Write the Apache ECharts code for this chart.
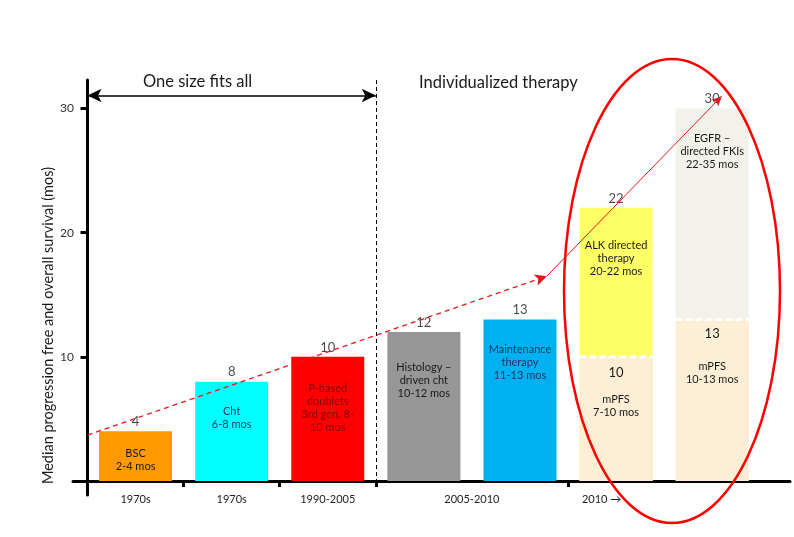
<!DOCTYPE html>
<html><head><meta charset="utf-8">
<script src="https://cdn.jsdelivr.net/npm/echarts@6/dist/echarts.min.js"></script>
<style>html,body{margin:0;padding:0;background:#fff}#c{width:794px;height:537px}</style>
</head><body><div id="c"></div>
<script>
// ---- data ----
const categories = ['BSC', 'Cht', 'P-based doublets', 'Histology-driven cht', 'Maintenance therapy', 'ALK directed therapy', 'EGFR-directed TKIs'];
const pfsValues = [4, 8, 10, 12, 13, 10, 13];          // lower (or only) bar segment
const osValues = [null, null, null, null, null, 22, 30]; // total height of two-part bars
const barTexts = ['BSC\n2-4 mos', 'Cht\n6-8 mos', 'P-based\ndoublets\n3rd gen. 8-\n10 mos', 'Histology –\ndriven cht\n10-12 mos', 'Maintenance\ntherapy\n11-13 mos', 'mPFS\n7-10 mos', 'mPFS\n10-13 mos'];
const upperTexts = [null, null, null, null, null, 'ALK directed\ntherapy\n20-22 mos', 'EGFR –\ndirected FKIs\n22-35 mos'];
const eraLabels = ['1970s', '1970s', '1990-2005', '2005-2010', '2010 →'];
const eraLabelPos = [0.5, 1.5, 2.5, 4, 5.35];
const eraTicks = [0, 1, 2, 3, 5];
const yTicks = [10, 20, 30];
const trendDashed = [[0, 3.7], [4.78, 16.5]];
const trendSolid = [[4.78, 16.5], [6.6, 31.0]];
const eraSplit = 3;
const headerArrow = [[0, 31.05], [3, 31.05]];

// ---- styles ----
const FONT = 'Lato';
const BAR_W = 73;
const baseColors = ['#FF9900', '#00FFFF', '#FF0000', '#969696', '#00B0F0', '#FDEFD5', '#FDEFD5'];
const upperColors = [null, null, null, null, null, '#FFFF66', '#F2F1EA'];
const textColors = ['#1a1a1a', '#1F3864', '#7F0000', '#1a1a1a', '#1F3864', '#1a1a1a', '#1a1a1a'];
const textDist = [16, 23, 25, 29, 23, 8, 6];
const upperDist = [0, 0, 0, 0, 0, 31, 23];

const xOf = i => i + 0.5;

const baseData = pfsValues.map((v, i) => {
  const two = osValues[i] != null;
  return {
    value: [xOf(i), v],
    itemStyle: { color: baseColors[i] },
    label: {
      show: true, position: 'insideTop', distance: textDist[i],
      color: textColors[i], fontFamily: FONT, fontSize: 11, lineHeight: 13, align: 'center',
      formatter: two
        ? ('{n|' + v + '}\n{' + (i === 5 ? 's1' : 's2') + '| }\n' + barTexts[i].split('\n').map(t => '{t|' + t + '}').join('\n'))
        : barTexts[i],
      rich: {
        n: { fontSize: 13, lineHeight: 16, color: '#1a1a1a', fontFamily: FONT },
        s1: { lineHeight: 12, fontSize: 4 },
        s2: { lineHeight: 18, fontSize: 4 },
        t: { fontSize: 11, lineHeight: 13, color: '#1a1a1a', fontFamily: FONT }
      }
    }
  };
});

const upperData = osValues.map((v, i) => {
  if (v == null) return { value: [xOf(i), '-'] };
  return {
    value: [xOf(i), v],
    itemStyle: { color: upperColors[i] },
    label: {
      show: true, position: 'insideTop', distance: upperDist[i],
      color: '#1a1a1a', fontFamily: FONT, fontSize: 11, lineHeight: 13, align: 'center',
      formatter: upperTexts[i]
    }
  };
});

const splitData = [];
pfsValues.forEach((v, i) => { if (osValues[i] != null) splitData.push([xOf(i), v]); });

const topData = pfsValues.map((v, i) => [xOf(i), osValues[i] != null ? osValues[i] : v]);

const chart = echarts.init(document.getElementById('c'), null, { renderer: 'canvas' });
chart.setOption({
  animation: false,
  backgroundColor: '#ffffff',
  textStyle: { fontFamily: FONT },
  grid: { left: 73, right: 4, top: 80, bottom: 42, containLabel: false },
  xAxis: {
    type: 'value', min: -0.151, max: 7.31,
    axisLine: { show: true, onZero: true, lineStyle: { color: '#000', width: 3 } },
    axisTick: { show: true, customValues: eraTicks, length: 6, lineStyle: { color: '#000', width: 3 } },
    axisLabel: {
      show: true, customValues: eraLabelPos, margin: -1, fontSize: 11, color: '#222', fontFamily: FONT,
      formatter: v => { const k = eraLabelPos.findIndex(p => Math.abs(p - v) < 1e-6); return k >= 0 ? eraLabels[k] : ''; }
    },
    splitLine: { show: false }
  },
  yAxis: {
    type: 'value', min: -1.13, max: 32.3,
    name: 'Median progression free and overall survival (mos)',
    nameLocation: 'middle', nameGap: 17, nameRotate: 90, nameMoveOverlap: false,
    nameTextStyle: { fontSize: 14.5, color: '#1a1a1a', fontFamily: FONT, padding: [0, 76, 0, 0] },
    axisLine: { show: true, onZero: true, lineStyle: { color: '#000', width: 3 } },
    axisTick: { show: true, customValues: yTicks, length: 7, lineStyle: { color: '#000', width: 3 } },
    axisLabel: { show: true, customValues: yTicks, margin: -1, fontSize: 12, color: '#333', fontFamily: FONT },
    splitLine: { show: false }
  },
  series: [
    { type: 'bar', name: 'OS', barWidth: BAR_W, barGap: '-100%', data: upperData, z: 2 },
    {
      type: 'bar', name: 'PFS', barWidth: BAR_W, barGap: '-100%', data: baseData, z: 2,
      markLine: {
        silent: true, z: 5, label: { show: false },
        data: [
          [{ coord: [eraSplit, 32.3], symbol: 'none' }, { coord: [eraSplit, 0], symbol: 'none', lineStyle: { type: [4, 3], color: '#000', width: 1 } }],
          [{ coord: headerArrow[0], symbol: 'arrow', symbolSize: [10, 14] }, { coord: headerArrow[1], symbol: 'arrow', symbolSize: [10, 14], lineStyle: { type: 'solid', color: '#000', width: 1.5 } }],
          [{ coord: trendDashed[0], symbol: 'none' }, { coord: trendDashed[1], symbol: 'arrow', symbolSize: [9, 12], lineStyle: { type: [5, 4], color: '#E8141C', width: 1.3 } }],
          [{ coord: trendSolid[0], symbol: 'none' }, { coord: trendSolid[1], symbol: 'arrow', symbolSize: [7, 10], lineStyle: { type: 'solid', color: '#E8141C', width: 1 } }]
        ]
      }
    },
    {
      type: 'custom', name: 'split', data: splitData, z: 3, silent: true,
      renderItem: (params, api) => {
        const p = api.coord([api.value(0), api.value(1)]);
        return {
          type: 'line',
          shape: { x1: p[0] - BAR_W / 2, y1: p[1], x2: p[0] + BAR_W / 2, y2: p[1] },
          style: { stroke: '#ffffff', lineWidth: 3, lineDash: [6, 4] }
        };
      }
    },
    {
      type: 'scatter', name: 'values', data: topData, symbolSize: 0, z: 4,
      label: { show: true, position: 'top', distance: 3, fontSize: 13, color: '#1a1a1a', fontFamily: FONT, formatter: p => p.value[1] }
    }
  ],
  graphic: [
    { type: 'ellipse', z: 10, shape: { cx: 672, cy: 291, rx: 108, ry: 232 }, style: { fill: null, stroke: '#FF0000', lineWidth: 2.5 } },
    { type: 'text', left: 143, top: 73, style: { text: 'One size fits all', fontSize: 16.5, fontFamily: FONT, fill: '#1a1a1a' } },
    { type: 'text', left: 419, top: 74, style: { text: 'Individualized therapy', fontSize: 16.5, fontFamily: FONT, fill: '#1a1a1a' } }
  ]
});
</script></body></html>
